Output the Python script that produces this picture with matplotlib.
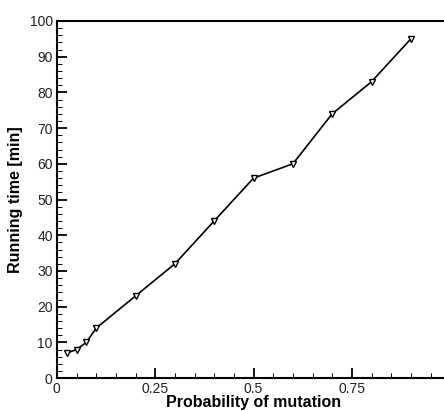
import numpy as np
import matplotlib
matplotlib.use('Agg')
import matplotlib.pyplot as plt
from matplotlib.ticker import MultipleLocator

# Données
prob_mutation = [0.025, 0.05, 0.075, 0.1, 0.2, 0.3, 0.4, 0.5, 0.6, 0.7, 0.8, 0.9]
running_time = [7, 8, 10, 14, 23, 32, 44, 56, 60, 74, 83, 95]
x_ticks = [0, 0.25, 0.5, 0.75]
x_tick_labels = ['0', '0.25', '0.5', '0.75']

plt.rcParams['font.family'] = ['Liberation Sans', 'DejaVu Sans']

fig = plt.figure(figsize=(4.44, 4.11), dpi=100)
ax = fig.add_axes([0.128, 0.080, 0.886, 0.869])

ax.plot(prob_mutation, running_time, 'k-', lw=1.2,
        marker='v', markersize=5, markerfacecolor='white',
        markeredgecolor='k', markeredgewidth=1.0)

ax.set_xlim(0, 1)
ax.set_ylim(0, 100)
ax.set_xticks(x_ticks)
ax.set_xticklabels(x_tick_labels)
ax.set_yticks(np.arange(0, 101, 10))
ax.xaxis.set_minor_locator(MultipleLocator(0.05))
ax.yaxis.set_minor_locator(MultipleLocator(2))
ax.tick_params(which='both', direction='in', top=False, right=False,
               labelsize=10, pad=3, labelcolor='#222222')
ax.tick_params(which='major', length=7, width=1.3)
ax.tick_params(which='minor', length=3.5, width=0.7)

for s in ax.spines.values():
    s.set_linewidth(1.5)

ax.set_xlabel('Probability of mutation', fontsize=11.5, fontweight='bold', labelpad=-1)
ax.set_ylabel('Running time [min]', fontsize=11.5, fontweight='bold', labelpad=5)

fig.savefig('out.png', dpi=100)
